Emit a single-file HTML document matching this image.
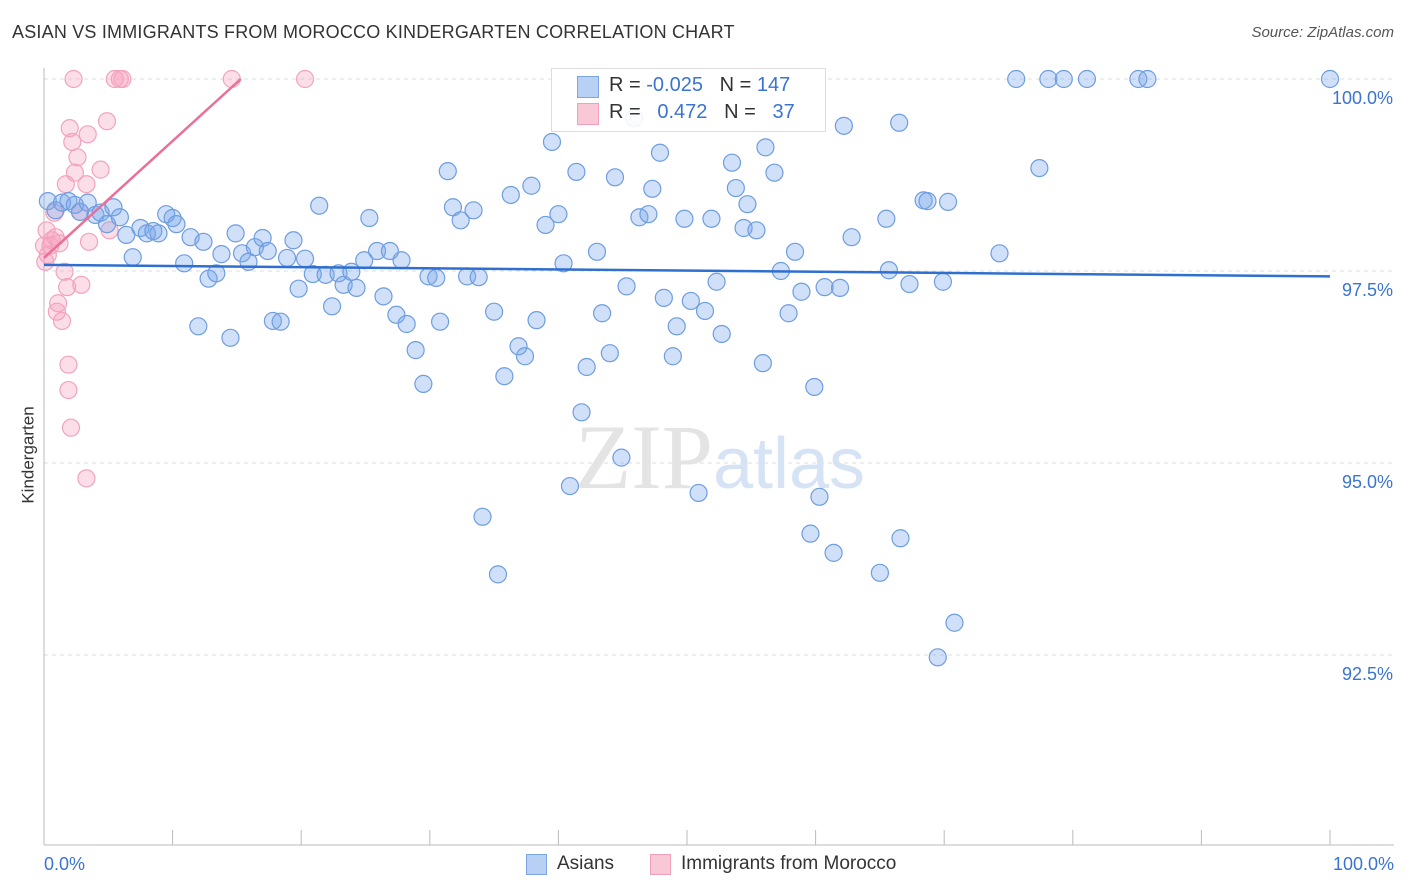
<!DOCTYPE html>
<html><head><meta charset="utf-8">
<style>
body{margin:0;background:#fff;font-family:"Liberation Sans",sans-serif;}
#wrap{position:relative;width:1406px;height:892px;overflow:hidden;}
.t{position:absolute;white-space:nowrap;}
</style></head>
<body>
<div id="wrap">
<div class="t" style="left:12px;top:22px;font-size:18px;color:#333;letter-spacing:0.2px">ASIAN VS IMMIGRANTS FROM MOROCCO KINDERGARTEN CORRELATION CHART</div>
<div class="t" style="right:12px;top:24px;font-size:15px;color:#555;font-style:italic">Source: ZipAtlas.com</div>
<div class="t" style="left:-20px;top:445px;font-size:17px;color:#333;transform:rotate(-90deg)">Kindergarten</div>
<svg id="plot" width="1406" height="892" style="position:absolute;left:0;top:0"></svg>
<div style="position:absolute;left:551px;top:68px;width:273px;height:62px;border:1px solid #ddd;background:rgba(255,255,255,0.9)">
 <div style="position:absolute;left:25px;top:7px;width:20px;height:20px;background:#b8d0f4;border:1px solid #7aa7e0"></div>
 <div class="t" style="left:57px;top:5px;font-size:20px;color:#333">R = <span style="color:#3a74d0">-0.025</span>&nbsp;&nbsp;&nbsp;N = <span style="color:#3a74d0">147</span></div>
 <div style="position:absolute;left:25px;top:34px;width:20px;height:20px;background:#f8c8d6;border:1px solid #f0a0bc"></div>
 <div class="t" style="left:57px;top:32px;font-size:20px;color:#333">R = &nbsp;&nbsp;<span style="color:#3a74d0">0.472</span>&nbsp;&nbsp;&nbsp;N = &nbsp;&nbsp;<span style="color:#3a74d0">37</span></div>
</div>
<div>
 <div style="position:absolute;left:526px;top:854px;width:19px;height:19px;background:#b8d0f4;border:1px solid #7aa7e0"></div>
 <div class="t" style="left:557px;top:853px;font-size:19px;color:#333">Asians</div>
 <div style="position:absolute;left:650px;top:854px;width:19px;height:19px;background:#f8c8d6;border:1px solid #f0a0bc"></div>
 <div class="t" style="left:681px;top:853px;font-size:19px;color:#333">Immigrants from Morocco</div>
</div>
</div>
<script>
const yTicks=[100,97.5,95,92.5];
const yTickLabels=["100.0%","97.5%","95.0%","92.5%"];
const xTicks=[0,10,20,30,40,50,60,70,80,90,100];
const xEndLabels=["0.0%","100.0%"];
const asianX=[0.3,0.9,1.4,1.9,2.4,2.8,3.4,4.0,4.4,4.9,5.4,5.9,6.4,6.9,7.5,8.0,8.5,8.9,9.5,10.0,10.3,10.9,11.4,12.0,12.4,12.8,13.4,13.8,14.5,14.9,15.4,15.9,16.4,17.0,17.4,17.8,18.4,18.9,19.4,19.8,20.3,20.9,21.4,21.9,22.4,22.9,23.3,23.9,24.3,24.9,25.3,25.9,26.4,26.9,27.4,27.8,28.2,28.9,29.5,29.9,30.5,30.8,31.4,31.8,32.4,32.9,33.4,33.8,34.1,35.0,35.3,35.8,36.3,36.9,37.4,37.9,38.3,39.0,39.5,40.0,40.4,40.9,41.4,41.8,42.2,43.0,43.4,44.0,44.4,44.9,45.3,45.9,46.3,47.0,47.3,47.9,48.2,48.9,49.2,49.8,50.3,50.9,51.4,51.9,52.3,52.7,53.5,53.8,54.4,54.7,55.4,55.9,56.1,56.8,57.3,57.9,58.4,58.9,59.6,59.9,60.3,60.7,61.4,61.9,62.2,62.8,65.0,65.5,65.7,66.5,66.6,67.3,68.4,68.7,69.5,69.9,70.3,70.8,74.3,75.6,77.4,78.1,79.3,81.1,85.1,85.8,100];
const asianY=[98.41,98.29,98.39,98.41,98.36,98.27,98.39,98.23,98.26,98.11,98.33,98.20,97.97,97.68,98.06,97.99,98.02,97.99,98.24,98.19,98.11,97.60,97.94,96.78,97.88,97.40,97.47,97.72,96.63,97.99,97.73,97.62,97.81,97.93,97.76,96.85,96.84,97.67,97.90,97.27,97.66,97.46,98.35,97.45,97.04,97.47,97.32,97.49,97.28,97.64,98.19,97.76,97.17,97.76,96.93,97.64,96.81,96.47,96.03,97.43,97.41,96.84,98.80,98.33,98.16,97.43,98.29,97.42,94.30,96.97,93.55,96.13,98.49,96.52,96.39,98.61,96.86,98.10,99.18,98.24,97.60,94.70,98.79,95.66,96.25,97.75,96.95,96.43,98.72,95.07,97.30,99.49,98.20,98.24,98.57,99.04,97.15,96.39,96.78,98.18,97.11,94.61,96.98,98.18,97.36,96.68,98.91,98.58,98.06,98.37,98.03,96.30,99.11,98.78,97.50,96.95,97.75,97.23,94.08,95.99,94.56,97.29,93.83,97.28,99.39,97.94,93.57,98.18,97.51,99.43,94.02,97.33,98.42,98.41,92.47,97.36,98.40,92.92,97.73,100,98.84,100,100,100,100,100,100];
const morX=[0.1,0.3,0.5,0.6,0.8,0.9,1.0,1.1,1.2,1.4,1.6,1.7,1.8,1.9,1.9,2.0,2.1,2.2,2.3,2.4,2.6,2.8,2.9,3.3,3.3,3.4,3.5,4.4,4.9,5.1,5.5,5.9,6.1,14.6,20.3,0.2,0];
const morY=[97.62,97.71,97.83,97.90,98.26,97.94,96.97,97.08,97.86,96.85,97.49,98.63,97.29,96.28,95.95,99.36,95.46,99.18,100,98.78,98.98,98.27,97.32,94.80,98.63,99.28,97.88,98.82,99.45,98.03,100,100,100,100,100,98.03,97.83];
const asianTrend=[[0,97.58],[100,97.43]];
const morTrend=[[0,97.67],[15.3,100]];

const X0=44,X1=1330,YTOP=79,PXPER=76.8;
const sx=v=>X0+(X1-X0)*v/100;
const sy=v=>YTOP+(100-v)*PXPER;
const svg=document.getElementById('plot');
const NS='http://www.w3.org/2000/svg';
function mk(tag,attrs){const e=document.createElementNS(NS,tag);for(const k in attrs)e.setAttribute(k,attrs[k]);svg.appendChild(e);return e;}
yTicks.forEach((t,i)=>{
 const g=mk('line',{x1:44,x2:1394,y1:sy(t),y2:sy(t),stroke:'#ddd','stroke-dasharray':'4,4'});
 
 
 const l=mk('text',{x:1393,y:sy(t)+25,'text-anchor':'end','font-size':18,fill:'#3a74d0','font-family':'Liberation Sans'});
 l.textContent=yTickLabels[i];
 
 
});
const ax=mk('line',{x1:44,x2:44,y1:68,y2:845,stroke:'#bbb'});


const bx=mk('line',{x1:44,x2:1394,y1:845,y2:845,stroke:'#bbb'});


xTicks.forEach(t=>{
 const k=mk('line',{x1:sx(t),x2:sx(t),y1:830,y2:845,stroke:'#bbb'});
 
 
});
[[0,'start',44],[100,'end',1394]].forEach((d,i)=>{
 const l=mk('text',{x:d[2],y:870,'text-anchor':d[1],'font-size':18,fill:'#3a74d0','font-family':'Liberation Sans'});
 l.textContent=xEndLabels[i];
 
 
});
const wm=mk('text',{x:720,y:488,'text-anchor':'middle','font-size':92,'font-family':'Liberation Serif',fill:'#e4e4e4'});
wm.innerHTML='ZIP<tspan font-family="Liberation Sans" fill="#d6e3f5" font-size="72">atlas</tspan>';


morX.forEach((x,i)=>{
 const c=mk('circle',{cx:sx(x),cy:sy(morY[i]),r:8.5,fill:'rgba(245,160,190,0.35)',stroke:'#f2a3be','stroke-width':1.2});
 
 
});
asianX.forEach((x,i)=>{
 const c=mk('circle',{cx:sx(x),cy:sy(asianY[i]),r:8.5,fill:'rgba(120,165,235,0.35)',stroke:'#6e9de0','stroke-width':1.2});
 
 
});
const tl1=mk('line',{x1:sx(asianTrend[0][0]),y1:sy(asianTrend[0][1]),x2:sx(asianTrend[1][0]),y2:sy(asianTrend[1][1]),stroke:'#2f6fd0','stroke-width':2.5});


const tl2=mk('line',{x1:sx(morTrend[0][0]),y1:sy(morTrend[0][1]),x2:sx(morTrend[1][0]),y2:sy(morTrend[1][1]),stroke:'#e8709a','stroke-width':2.5});


</script>
</body></html>
